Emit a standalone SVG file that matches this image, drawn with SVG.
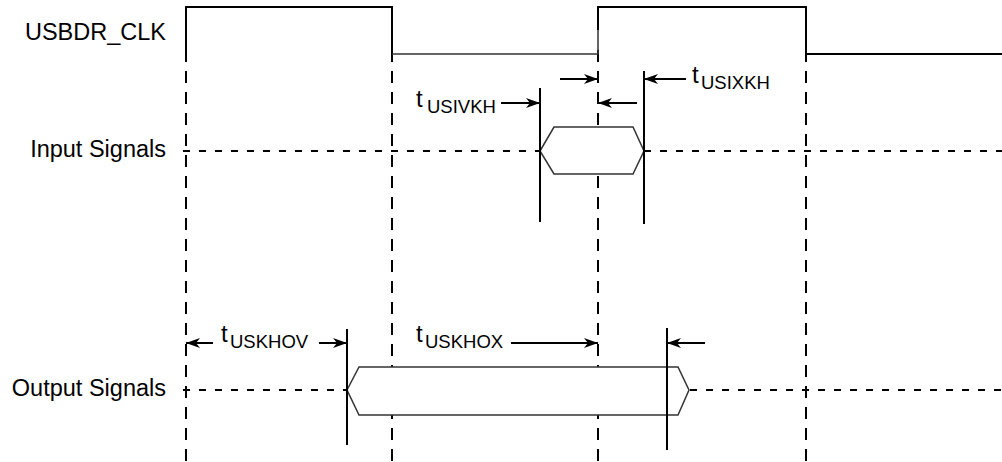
<svg xmlns="http://www.w3.org/2000/svg" width="1002" height="462" viewBox="0 0 1002 462">
<style>
text{font-family:"Liberation Sans",Arial,sans-serif;fill:#000}
.lbl{font-size:23.5px;text-anchor:end}
.t{font-size:24px}
.sub{font-size:18.5px}
.vd{stroke:#000;stroke-width:2;stroke-dasharray:12 9;fill:none}
.hd{stroke:#000;stroke-width:2;stroke-dasharray:7 9;fill:none}
.sol{stroke:#000;stroke-width:2;fill:none}
.hex{stroke:#333;stroke-width:1.5;fill:#fff}
.arr{stroke:#000;stroke-width:2;fill:none;marker-end:url(#ah)}
</style>
<defs>
<marker id="ah" markerUnits="userSpaceOnUse" markerWidth="16" markerHeight="12" refX="14" refY="6" orient="auto">
<path d="M0,1 L14,6 L0,11 L4,6 z" fill="#000"/>
</marker>
</defs>
<rect width="1002" height="462" fill="#fff"/>
<g id="labels">
<text class="lbl" x="166" y="40">USBDR_CLK</text>
<text class="lbl" x="166" y="157">Input Signals</text>
<text class="lbl" x="166" y="396">Output Signals</text>
</g>
<g id="gridlines">
<line class="vd" x1="186" y1="50" x2="186" y2="462"/>
<line class="vd" x1="392" y1="50" x2="392" y2="462"/>
<line class="vd" x1="598" y1="50" x2="598" y2="462"/>
<line class="vd" x1="806" y1="50" x2="806" y2="462"/>
<line class="hd" x1="183" y1="151" x2="540" y2="151"/>
<line class="hd" x1="644" y1="151" x2="1002" y2="151"/>
<line class="hd" x1="183" y1="390" x2="347" y2="390"/>
<line class="hd" x1="690" y1="390" x2="1002" y2="390"/>
</g>
<g id="clock">
<polyline class="sol" points="186,62 186,7 392,7 392,54"/>
<polyline fill="none" stroke="#333" stroke-width="1.5" points="392,54 598,54 598,30"/>
<polyline class="sol" points="598,30 598,7 806,7 806,54 1002,54"/>
</g>
<g id="input-signal">
<polygon class="hex" points="540,151 554,127 633,127 644,151 633,174 554,174"/>
<line class="sol" x1="540" y1="88" x2="540" y2="222"/>
<line class="sol" x1="644" y1="71" x2="644" y2="224"/>
</g>
<g id="output-signal">
<polygon class="hex" points="347,390 359,367 678,367 689,390 678,415 359,415"/>
<line class="sol" x1="347" y1="329" x2="347" y2="445"/>
<line class="sol" x1="667" y1="328" x2="667" y2="450"/>
</g>
<g id="connectors">
<line class="arr" x1="560" y1="79" x2="598" y2="79"/>
<line class="arr" x1="686" y1="79" x2="644" y2="79"/>
<line class="arr" x1="637" y1="103" x2="598" y2="103"/>
<line class="arr" x1="501" y1="103" x2="540" y2="103"/>
<line class="arr" x1="213" y1="343" x2="186" y2="343"/>
<line class="arr" x1="319" y1="343" x2="347" y2="343"/>
<line class="arr" x1="511" y1="343" x2="598" y2="343"/>
<line class="arr" x1="705" y1="343" x2="667" y2="343"/>
</g>
<g id="timing-labels">
<text x="416" y="107"><tspan class="t">t</tspan><tspan class="sub" x="427" y="113">USIVKH</tspan></text>
<text x="692" y="83"><tspan class="t">t</tspan><tspan class="sub" x="701" y="89">USIXKH</tspan></text>
<text x="221" y="342"><tspan class="t">t</tspan><tspan class="sub" x="230" y="348">USKHOV</tspan></text>
<text x="416" y="342"><tspan class="t">t</tspan><tspan class="sub" x="425" y="348">USKHOX</tspan></text>
</g>
</svg>
